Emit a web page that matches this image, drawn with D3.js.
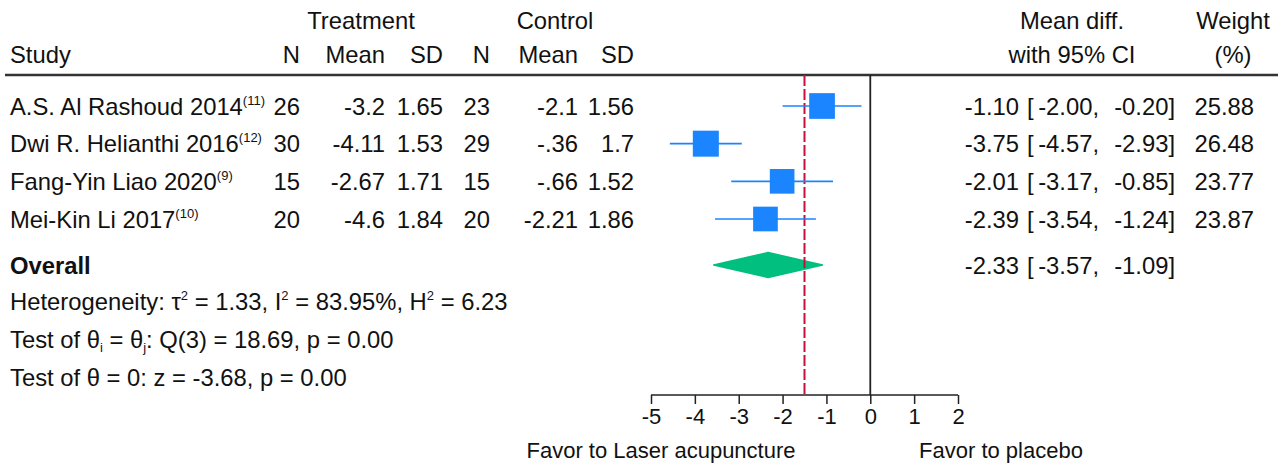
<!DOCTYPE html>
<html>
<head>
<meta charset="utf-8">
<script src="https://cdn.jsdelivr.net/npm/d3@7"></script>
<style>
  body { margin: 0; background: #fff; }
  svg text { font-family: "Liberation Sans", Arial, sans-serif; font-size: 23.8px; fill: #111; }
</style>
</head>
<body>
<script>
const width = 1282;
const height = 464;

// study data
const studies = ['A.S. Al Rashoud 2014', 'Dwi R. Helianthi 2016', 'Fang-Yin Liao 2020', 'Mei-Kin Li 2017'];
const refs = ['(11)', '(12)', '(9)', '(10)'];
const treatN = ['26', '30', '15', '20'];
const treatMean = ['-3.2', '-4.11', '-2.67', '-4.6'];
const treatSD = ['1.65', '1.53', '1.71', '1.84'];
const ctrlN = ['23', '29', '15', '20'];
const ctrlMean = ['-2.1', '-.36', '-.66', '-2.21'];
const ctrlSD = ['1.56', '1.7', '1.52', '1.86'];
const est = [-1.10, -3.75, -2.01, -2.39];
const lo = [-2.00, -4.57, -3.17, -3.54];
const hi = [-0.20, -2.93, -0.85, -1.24];
const weight = [25.88, 26.48, 23.77, 23.87];

const overall = { est: -2.33, lo: -3.57, hi: -1.09 };
const refLine = -1.5;
const xTicks = [-5, -4, -3, -2, -1, 0, 1, 2];

const blue = '#1a85ff';
const green = '#00bf7f';
const red = '#c8103c';

const svg = d3.select('body').append('svg').attr('width', width).attr('height', height);

const x = d3.scaleLinear().domain([-5, 2]).range([651, 958]);
const rowY = d3.scaleLinear().domain([0, 3]).range([106, 219]);
const size = d3.scaleSqrt().domain([0, 26.48]).range([0, 26]);

const lineTop = 75;
const axisY = 395;
// plain hyphen instead of the unicode minus
const f2 = function (v) { return d3.format('.2f')(v).replace('\u2212', '-'); };

function txt(xp, yp, s, anchor) {
  return svg.append('text').attr('x', xp).attr('y', yp).attr('text-anchor', anchor || 'start').text(s);
}

// header
txt(361, 29, 'Treatment', 'middle');
txt(555, 29, 'Control', 'middle');
txt(1072, 29, 'Mean diff.', 'middle');
txt(1233, 29, 'Weight', 'middle');
txt(10, 63, 'Study');
txt(300, 63, 'N', 'end');
txt(385, 63, 'Mean', 'end');
txt(443, 63, 'SD', 'end');
txt(490, 63, 'N', 'end');
txt(578, 63, 'Mean', 'end');
txt(634, 63, 'SD', 'end');
txt(1072, 63, 'with 95% CI', 'middle');
txt(1233, 63, '(%)', 'middle');

svg.append('line')
  .attr('x1', 5).attr('x2', 1278)
  .attr('y1', lineTop).attr('y2', lineTop)
  .attr('stroke', '#333').attr('stroke-width', 2.5);

// study rows
const cols = [
  { vals: treatN, x: 300 },
  { vals: treatMean, x: 385 },
  { vals: treatSD, x: 443 },
  { vals: ctrlN, x: 490 },
  { vals: ctrlMean, x: 578 },
  { vals: ctrlSD, x: 634 },
];

function ciText(by, e, l, h) {
  txt(1019, by, f2(e), 'end');
  txt(1027, by, '[');
  txt(1099, by, f2(l) + ',', 'end');
  txt(1175, by, f2(h) + ']', 'end');
}

studies.forEach(function (s, i) {
  const by = rowY(i) + 8.5;
  const t = svg.append('text').attr('x', 10).attr('y', by);
  t.append('tspan').text(s);
  t.append('tspan').attr('dy', -10).style('font-size', '13px').text(refs[i]);
  cols.forEach(function (c) {
    txt(c.x, by, c.vals[i], 'end');
  });
  ciText(by, est[i], lo[i], hi[i]);
  txt(1254, by, f2(weight[i]), 'end');
});

// overall row
const oy = 265;
txt(10, oy + 8.5, 'Overall').style('font-weight', 'bold');
ciText(oy + 8.5, overall.est, overall.lo, overall.hi);

// heterogeneity lines
const h1 = svg.append('text').attr('x', 10).attr('y', 310);
h1.append('tspan').text('Heterogeneity: \u03c4');
h1.append('tspan').attr('dy', -10).style('font-size', '13px').text('2');
h1.append('tspan').attr('dy', 10).text(' = 1.33, I');
h1.append('tspan').attr('dy', -10).style('font-size', '13px').text('2');
h1.append('tspan').attr('dy', 10).text(' = 83.95%, H');
h1.append('tspan').attr('dy', -10).style('font-size', '13px').text('2');
h1.append('tspan').attr('dy', 10).text(' = 6.23');

const h2 = svg.append('text').attr('x', 10).attr('y', 348);
h2.append('tspan').text('Test of \u03b8');
h2.append('tspan').attr('dy', 4).style('font-size', '13px').text('i');
h2.append('tspan').attr('dy', -4).text(' = \u03b8');
h2.append('tspan').attr('dy', 4).style('font-size', '13px').text('j');
h2.append('tspan').attr('dy', -4).text(': Q(3) = 18.69, p = 0.00');

txt(10, 386, 'Test of \u03b8 = 0: z = -3.68, p = 0.00');

// overall diamond
svg.append('path')
  .attr('d', 'M' + x(overall.lo) + ',' + oy +
    'L' + x(overall.est) + ',' + (oy - 12.5) +
    'L' + x(overall.hi) + ',' + oy +
    'L' + x(overall.est) + ',' + (oy + 12.5) + 'Z')
  .attr('fill', green).attr('stroke', green).attr('stroke-linejoin', 'round').attr('stroke-width', 1.5);

// vertical lines
svg.append('line')
  .attr('x1', x(0)).attr('x2', x(0))
  .attr('y1', lineTop).attr('y2', axisY)
  .attr('stroke', '#222').attr('stroke-width', 1.8);

svg.append('line')
  .attr('x1', x(refLine)).attr('x2', x(refLine))
  .attr('y1', lineTop).attr('y2', axisY)
  .attr('stroke', red).attr('stroke-width', 2)
  .attr('stroke-dasharray', '11,3');

// CI lines and squares
const g = svg.append('g');
g.selectAll('.ci')
  .data(est)
  .enter()
  .append('line')
  .attr('class', 'ci')
  .attr('x1', function (d, i) { return x(lo[i]); })
  .attr('x2', function (d, i) { return x(hi[i]); })
  .attr('y1', function (d, i) { return rowY(i); })
  .attr('y2', function (d, i) { return rowY(i); })
  .attr('stroke', blue).attr('stroke-width', 1.6);

g.selectAll('.box')
  .data(est)
  .enter()
  .append('rect')
  .attr('class', 'box')
  .attr('x', function (d, i) { return x(d) - size(weight[i]) / 2; })
  .attr('y', function (d, i) { return rowY(i) - size(weight[i]) / 2; })
  .attr('width', function (d, i) { return size(weight[i]); })
  .attr('height', function (d, i) { return size(weight[i]); })
  .attr('fill', blue);

// axis
const axis = svg.append('g')
  .attr('transform', 'translate(0,' + axisY + ')')
  .call(d3.axisBottom(x).tickValues(xTicks).tickSize(9).tickPadding(4).tickFormat(d3.format('d')));
axis.select('.domain').attr('stroke', '#222').attr('stroke-width', 1.5).attr('d', 'M' + x(-5) + ',0H' + x(2));
axis.selectAll('.tick line').attr('stroke', '#222').attr('stroke-width', 1.5);
axis.selectAll('.tick text').style('font-size', '22px').attr('fill', '#111')
  .text(function (d) { return d < 0 ? '-' + Math.abs(d) : d; });

txt(661, 458, 'Favor to Laser acupuncture', 'middle').style('font-size', '22px');
txt(1001, 458, 'Favor to placebo', 'middle').style('font-size', '22px');
</script>
</body>
</html>
